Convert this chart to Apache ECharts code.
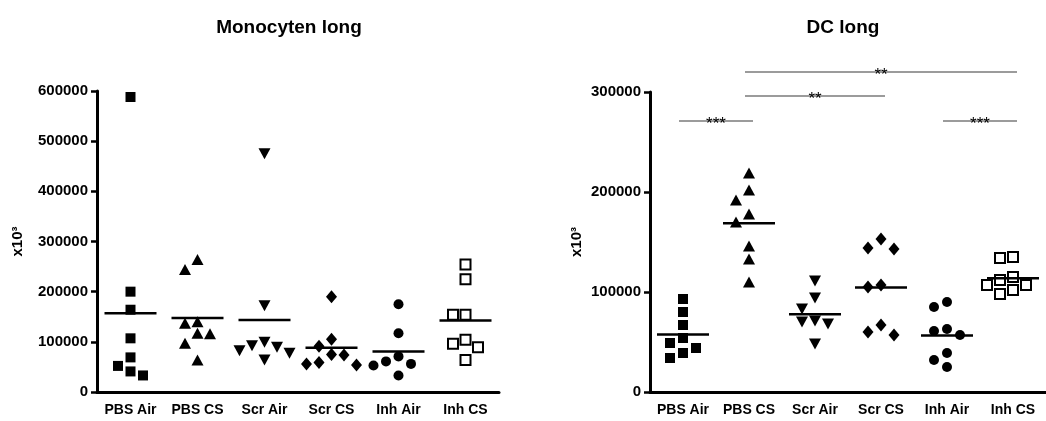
<!DOCTYPE html>
<html>
<head>
<meta charset="utf-8">
<script src="https://cdn.jsdelivr.net/npm/echarts@6/dist/echarts.min.js"></script>
<style>
html,body{margin:0;padding:0;background:#fff;}
#chart{width:1046px;height:421px;}
</style>
</head>
<body>
<div id="chart"></div>
<script>
const categories = ['PBS Air', 'PBS CS', 'Scr Air', 'Scr CS', 'Inh Air', 'Inh CS'];
const titles = ['Monocyten long', 'DC long'];
const yAxisName = 'x10³';

// Monocyten long
const monoPbsAir = [588000, 200000, 164000, 107000, 69000, 52000, 41000, 33000];
const monoPbsCs  = [264000, 244000, 140000, 137000, 117000, 116000, 97000, 64000];
const monoScrAir = [475000, 172000, 99000, 92000, 89000, 82000, 77000, 64000];
const monoScrCs  = [190000, 105000, 91000, 75000, 74000, 59000, 56000, 54000];
const monoInhAir = [175000, 117000, 71000, 61000, 56000, 53000, 33000];
const monoInhCs  = [254000, 225000, 154000, 154000, 104000, 96000, 89000, 64000];

// DC long
const dcPbsAir = [93000, 80000, 67000, 54000, 49000, 44000, 39000, 34000];
const dcPbsCs  = [219000, 202000, 192000, 178000, 170000, 146000, 133000, 110000];
const dcScrAir = [111000, 94000, 83000, 71000, 70000, 68000, 48000];
const dcScrCs  = [153000, 144000, 143000, 107000, 105000, 67000, 60000, 57000];
const dcInhAir = [90000, 85000, 63000, 61000, 57000, 39000, 32000, 25000];
const dcInhCs  = [135000, 134000, 115000, 112000, 107000, 107000, 102000, 98000];

// significance bars (DC long)
const sigFrom   = [0, 1, 1, 4];
const sigTo     = [1, 3, 5, 5];
const sigLevel  = [271000, 296000, 320000, 271000];
const sigLabels = ['***', '**', '**', '***'];

const monoGroups = [monoPbsAir, monoPbsCs, monoScrAir, monoScrCs, monoInhAir, monoInhCs];
const dcGroups = [dcPbsAir, dcPbsCs, dcScrAir, dcScrCs, dcInhAir, dcInhCs];

const symbolStyles = [
  {symbol: 'rect', symbolSize: 10, symbolRotate: 0, itemStyle: {color: '#000', opacity: 1}},
  {symbol: 'triangle', symbolSize: [12, 11], symbolRotate: 0, itemStyle: {color: '#000', opacity: 1}},
  {symbol: 'triangle', symbolSize: [12, 11], symbolRotate: 180, itemStyle: {color: '#000', opacity: 1}},
  {symbol: 'diamond', symbolSize: [11, 13], symbolRotate: 0, itemStyle: {color: '#000', opacity: 1}},
  {symbol: 'circle', symbolSize: 10, symbolRotate: 0, itemStyle: {color: '#000', opacity: 1}},
  {symbol: 'rect', symbolSize: 10, symbolRotate: 0, itemStyle: {color: '#fff', borderColor: '#000', borderWidth: 2, opacity: 1}}
];

const FONT = '"Liberation Sans", Arial, Helvetica, sans-serif';
const mean = a => a.reduce((s, v) => s + v, 0) / a.length;

function xAxisCfg(gridIndex) {
  return {
    type: 'category', gridIndex, data: categories, boundaryGap: true,
    axisLine: {lineStyle: {color: '#000', width: 3}},
    axisTick: {alignWithLabel: true, length: 8, lineStyle: {color: '#000', width: 2.5}},
    axisLabel: {color: '#000', fontFamily: FONT, fontWeight: 'bold', fontSize: 14, margin: 11, interval: 0},
    splitLine: {show: false}
  };
}
function yAxisCfg(gridIndex, max, gap) {
  return {
    type: 'value', gridIndex, min: 0, max, interval: 100000,
    name: yAxisName, nameLocation: 'middle', nameGap: gap,
    nameTextStyle: {color: '#000', fontFamily: FONT, fontWeight: 'bold', fontSize: 15},
    axisLine: {show: true, lineStyle: {color: '#000', width: 3}},
    axisTick: {show: true, length: 6, lineStyle: {color: '#000', width: 2.5}},
    axisLabel: {color: '#000', fontFamily: FONT, fontWeight: 'bold', fontSize: 15, margin: 9,
      formatter: v => String(v)},
    splitLine: {show: false}
  };
}

function meanSeries(groups, gridIdx) {
  return {
    type: 'custom', xAxisIndex: gridIdx, yAxisIndex: gridIdx, silent: true, z: 5,
    data: groups.map((g, i) => [i, mean(g)]),
    renderItem: function (params, api) {
      const p = api.coord([api.value(0), api.value(1)]);
      return {type: 'line', shape: {x1: p[0] - 26, y1: p[1], x2: p[0] + 26, y2: p[1]},
        style: {stroke: '#000', lineWidth: 2.5}};
    }
  };
}

function scatterSeries(groups, gridIdx, offsets) {
  return groups.map((g, i) => Object.assign({
    type: 'scatter', xAxisIndex: gridIdx, yAxisIndex: gridIdx, z: 4,
    data: g.map((v, k) => ({value: [i, v], symbolOffset: offsets ? [offsets[i][k], 0] : [0, 0]}))
  }, symbolStyles[i]));
}

const sigSeries = {
  type: 'custom', xAxisIndex: 1, yAxisIndex: 1, silent: true, clip: false, z: 6,
  data: sigFrom.map((f, i) => [f, sigTo[i], sigLevel[i]]),
  renderItem: function (params, api) {
    const a = api.coord([api.value(0), api.value(2)]);
    const b = api.coord([api.value(1), api.value(2)]);
    return {type: 'group', children: [
      {type: 'line', shape: {x1: a[0] - 4, y1: a[1], x2: b[0] + 4, y2: b[1]},
        style: {stroke: '#7a7a7a', lineWidth: 1.5}},
      {type: 'text', style: {text: sigLabels[params.dataIndex], x: (a[0] + b[0]) / 2, y: a[1] + 3,
        align: 'center', verticalAlign: 'middle', fill: '#000', fontSize: 17, fontFamily: FONT}}
    ]};
  }
};

function buildOption(monoOffsets, dcOffsets) {
  return {
    animation: false,
    backgroundColor: '#fff',
    title: [
      {text: titles[0], left: 284, top: 13, textAlign: 'center',
        textStyle: {fontFamily: FONT, fontWeight: 'bold', fontSize: 19, color: '#000'}},
      {text: titles[1], left: 838, top: 13, textAlign: 'center',
        textStyle: {fontFamily: FONT, fontWeight: 'bold', fontSize: 19, color: '#000'}}
    ],
    grid: [
      {left: 97, top: 91, width: 402, height: 301, containLabel: false},
      {left: 650, top: 92, width: 401, height: 300, containLabel: false}
    ],
    xAxis: [xAxisCfg(0), xAxisCfg(1)],
    yAxis: [yAxisCfg(0, 600000, 72), yAxisCfg(1, 300000, 66)],
    series: [].concat(
      scatterSeries(monoGroups, 0, monoOffsets),
      scatterSeries(dcGroups, 1, dcOffsets),
      [meanSeries(monoGroups, 0), meanSeries(dcGroups, 1), sigSeries]
    )
  };
}

const chart = echarts.init(document.getElementById('chart'), null, {renderer: 'canvas'});
chart.setOption(buildOption(null, null));

// simple deterministic beeswarm: spread overlapping points sideways
function swarm(groups, gridIdx, step) {
  const slots = [0, -1, 1, -2, 2, -3, 3];
  return groups.map((g) => {
    const ys = g.map(v => chart.convertToPixel({gridIndex: gridIdx}, [0, v])[1]);
    const order = g.map((v, k) => k).sort((a, b) => ys[a] - ys[b]);
    const placed = [];
    const offs = new Array(g.length).fill(0);
    order.forEach(k => {
      for (const s of slots) {
        const dx = s * step;
        const clash = placed.some(p => Math.abs(p.y - ys[k]) < 11.5 && Math.abs(p.x - dx) < 11);
        if (!clash) { offs[k] = dx; placed.push({x: dx, y: ys[k]}); break; }
      }
    });
    return offs;
  });
}
const monoOffsets = swarm(monoGroups, 0, 12.5);
const dcOffsets = swarm(dcGroups, 1, 13);
chart.setOption(buildOption(monoOffsets, dcOffsets), true);
</script>
</body>
</html>
